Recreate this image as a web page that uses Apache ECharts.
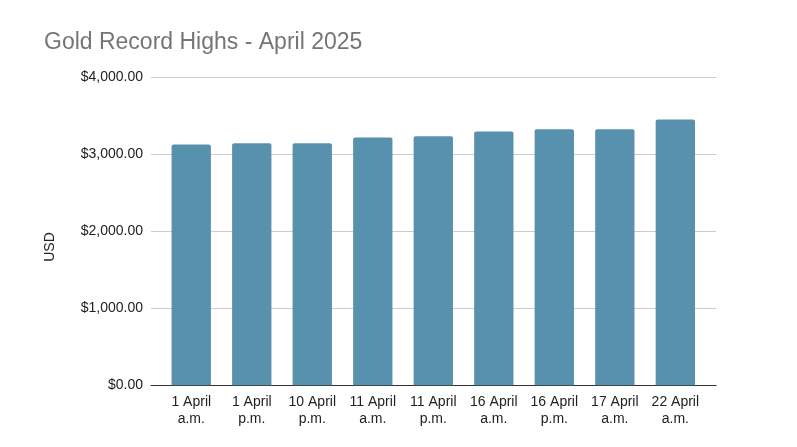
<!DOCTYPE html>
<html>
<head>
<meta charset="utf-8">
<script src="https://cdn.jsdelivr.net/npm/echarts@6/dist/echarts.min.js"></script>
<style>
html,body{margin:0;padding:0;background:#fff;}
#c{width:797px;height:447px;}
</style>
</head>
<body>
<div id="c"></div>
<script>
const categories = ['1 April\na.m.', '1 April\np.m.', '10 April\np.m.', '11 April\na.m.', '11 April\np.m.', '16 April\na.m.', '16 April\np.m.', '17 April\na.m.', '22 April\na.m.'];
const prices = [3127, 3145, 3143, 3218, 3235, 3296, 3326, 3325, 3452];
const yTicks = [0, 1000, 2000, 3000, 4000];
const titleText = 'Gold Record Highs - April 2025';
const yTitle = 'USD';

const FONT = 'Liberation Sans, Arial, sans-serif';
function money(v) {
  return '$' + v.toLocaleString('en-US', {minimumFractionDigits: 2, maximumFractionDigits: 2});
}
const chart = echarts.init(document.getElementById('c'), null, {renderer: 'canvas'});
const gridTop = 77.3, gridBottom = 447 - 385.3;
chart.setOption({
  backgroundColor: '#fff',
  animation: false,
  title: {
    text: titleText, left: 39, top: 26,
    textStyle: {fontFamily: FONT, fontSize: 23, fontWeight: 'normal', color: '#757575'}
  },
  graphic: [{
    type: 'text', x: 50, y: 247, rotation: Math.PI / 2,
    style: {text: yTitle, font: '14px ' + FONT, fill: '#222', textAlign: 'center', textVerticalAlign: 'middle'}
  }],
  grid: [
    {left: 151, right: 81, top: gridTop, bottom: gridBottom},
    {left: 161, right: 91.4, top: gridTop, bottom: gridBottom}
  ],
  xAxis: [
    {type: 'category', gridIndex: 0, data: categories,
     axisLine: {show: true, lineStyle: {color: '#333', width: 1.2}},
     axisTick: {show: false}, axisLabel: {show: false}, splitLine: {show: false}},
    {type: 'category', gridIndex: 1, data: categories,
     axisLine: {show: false}, axisTick: {show: false},
     axisLabel: {fontFamily: FONT, fontSize: 14, color: '#222', lineHeight: 16.6, margin: 8.5, interval: 0}}
  ],
  yAxis: [
    {type: 'value', gridIndex: 0, min: yTicks[0], max: yTicks[yTicks.length - 1], interval: 1000,
     axisLine: {show: false}, axisTick: {show: false},
     axisLabel: {fontFamily: FONT, fontSize: 14, color: '#222', margin: 8, padding: [2, 0, 0, 0], formatter: money},
     splitLine: {lineStyle: {color: '#cccccc', width: 1}}},
    {type: 'value', gridIndex: 1, min: yTicks[0], max: yTicks[yTicks.length - 1], interval: 1000, show: false}
  ],
  series: [{
    type: 'bar', xAxisIndex: 1, yAxisIndex: 1, data: prices,
    barCategoryGap: '35%',
    itemStyle: {color: '#5891ae', borderRadius: [2, 2, 0, 0]}
  }]
});
</script>
</body>
</html>
